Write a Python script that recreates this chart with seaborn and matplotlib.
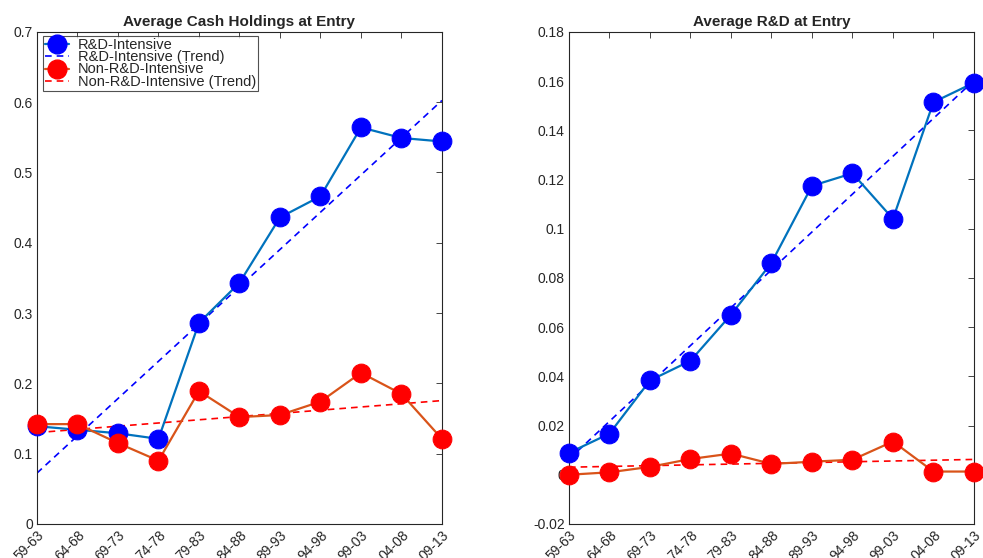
import numpy as np
import pandas as pd
import matplotlib
matplotlib.use("Agg")
import matplotlib.pyplot as plt
from matplotlib.lines import Line2D
import seaborn as sns

# Entry cohorts (5-year windows)
periods = ["59-63", "64-68", "69-73", "74-78", "79-83", "84-88",
           "89-93", "94-98", "99-03", "04-08", "09-13"]

# Average cash holdings at entry
cash_rd = [0.139, 0.134, 0.129, 0.121, 0.286, 0.343, 0.436, 0.466, 0.564, 0.549, 0.544]
cash_nonrd = [0.142, 0.142, 0.115, 0.090, 0.189, 0.152, 0.155, 0.174, 0.215, 0.185, 0.121]

# Average R&D intensity at entry
rd_rd = [0.0089, 0.0167, 0.0383, 0.0463, 0.0650, 0.0861, 0.1174, 0.1225, 0.1040, 0.1514, 0.1593]
rd_nonrd = [0.0000, 0.0010, 0.0032, 0.0064, 0.0086, 0.0044, 0.0053, 0.0061, 0.0135, 0.0013, 0.0013]

sns.set_style("white")
plt.rcParams["font.family"] = ["Liberation Sans", "DejaVu Sans"]
plt.rcParams["xtick.direction"] = "in"
plt.rcParams["ytick.direction"] = "in"

AX_COLOR = "#262626"
LINE_BLUE = "#0072BD"
LINE_ORANGE = "#D95319"

fig = plt.figure(figsize=(9.83, 5.58), dpi=100)
ax1 = fig.add_axes([0.0376, 0.061, 0.412, 0.882])
ax2 = fig.add_axes([0.5788, 0.061, 0.412, 0.882])

xpos = np.arange(len(periods))


def draw_panel(ax, rd_vals, non_vals, title, yticks, ylabels, ylim):
    df = pd.DataFrame({"x": xpos, "rd": rd_vals, "non": non_vals})
    # trend lines (OLS fit over cohorts)
    sns.regplot(data=df, x="x", y="rd", ax=ax, scatter=False, ci=None,
                color="#0000FF", line_kws=dict(ls=(0, (4, 3)), lw=1.2))
    sns.regplot(data=df, x="x", y="non", ax=ax, scatter=False, ci=None,
                color="#FF0000", line_kws=dict(ls=(0, (4, 3)), lw=1.2))
    # series with markers
    sns.lineplot(data=df, x="x", y="rd", ax=ax, color=LINE_BLUE, lw=1.6,
                 marker="o", markersize=13.5, markerfacecolor="#0000FF",
                 markeredgecolor="#0000FF", clip_on=False, zorder=5)
    sns.lineplot(data=df, x="x", y="non", ax=ax, color=LINE_ORANGE, lw=1.6,
                 marker="o", markersize=13.5, markerfacecolor="#FF0000",
                 markeredgecolor="#FF0000", clip_on=False, zorder=6)
    ax.set_xlim(0, len(periods) - 1)
    ax.set_ylim(*ylim)
    ax.set_xticks(xpos)
    ax.set_xticklabels(periods, rotation=45, ha="right", va="top",
                       rotation_mode="anchor", fontsize=10, color=AX_COLOR)
    ax.set_yticks(yticks)
    ax.set_yticklabels(ylabels, fontsize=10, color=AX_COLOR)
    ax.tick_params(axis="both", which="both", direction="in", length=4,
                   width=0.6, color=AX_COLOR, top=True, right=True, pad=3)
    ax.set_xlabel("")
    ax.set_ylabel("")
    for sp in ax.spines.values():
        sp.set_visible(True)
        sp.set_color(AX_COLOR)
        sp.set_linewidth(0.8)
    ax.set_title(title, fontsize=11, fontweight="bold", pad=4)


def fmt(v):
    s = f"{v:.2f}".rstrip("0").rstrip(".")
    return "0" if s in ("-0", "0") else s


yt1 = np.round(np.arange(0, 0.71, 0.1), 2)
draw_panel(ax1, cash_rd, cash_nonrd, "Average Cash Holdings at Entry",
           yt1, [fmt(v) for v in yt1], (0, 0.7))
yt2 = np.round(np.arange(-0.02, 0.181, 0.02), 2)
draw_panel(ax2, rd_rd, rd_nonrd, "Average R&D at Entry",
           yt2, [fmt(v) for v in yt2], (-0.02, 0.18))

handles = [
    Line2D([], [], color=LINE_BLUE, lw=1.6, marker="o", markersize=13.5,
           markerfacecolor="#0000FF", markeredgecolor="#0000FF"),
    Line2D([], [], color="#0000FF", lw=1.2, ls=(0, (4, 3))),
    Line2D([], [], color=LINE_ORANGE, lw=1.6, marker="o", markersize=13.5,
           markerfacecolor="#FF0000", markeredgecolor="#FF0000"),
    Line2D([], [], color="#FF0000", lw=1.2, ls=(0, (4, 3))),
]
labels = ["R&D-Intensive", "R&D-Intensive (Trend)",
          "Non-R&D-Intensive", "Non-R&D-Intensive (Trend)"]
leg = ax1.legend(handles, labels, loc="upper left", bbox_to_anchor=(0.012, 0.995),
                 fontsize=10.5, frameon=True, fancybox=False, handlelength=1.6,
                 handleheight=0.5, handletextpad=0.6, borderpad=0.15,
                 labelspacing=-0.12, borderaxespad=0.1)
leg.get_frame().set_edgecolor(AX_COLOR)
leg.get_frame().set_linewidth(0.8)
leg.set_zorder(10)

fig.savefig("out.png", dpi=100)
